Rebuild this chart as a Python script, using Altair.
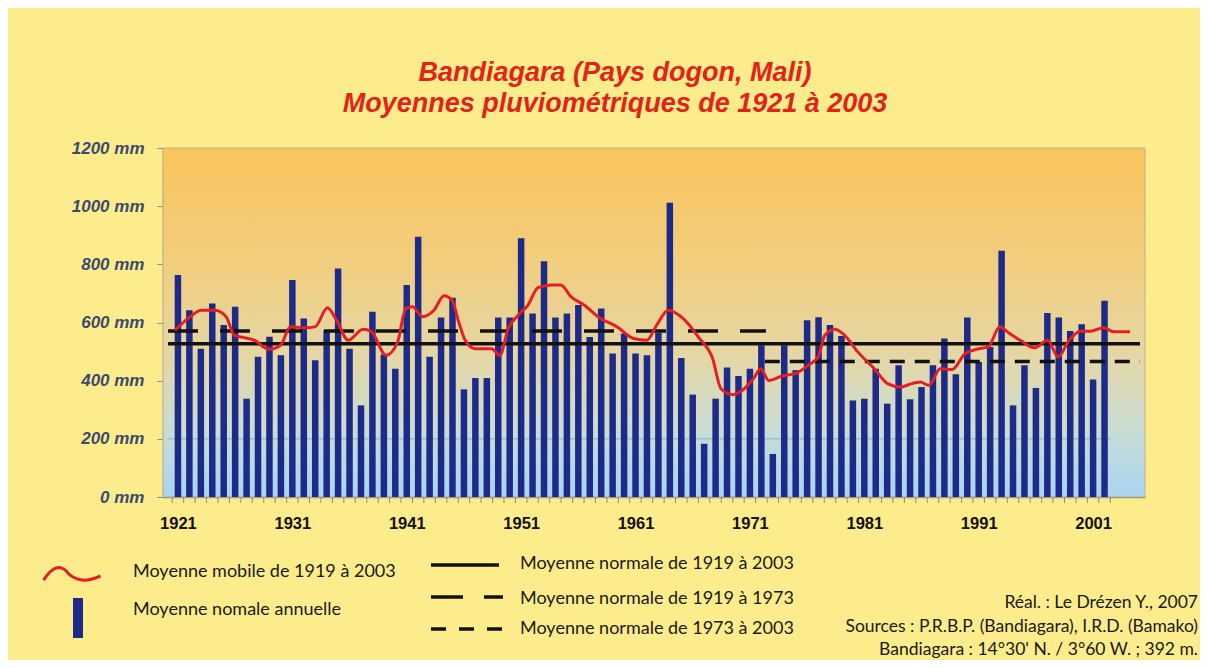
import altair as alt
import pandas as pd

# ---------------- data ----------------
years = list(range(1921, 2003))
rain = [763, 642, 510, 665, 591, 654, 338, 482, 551, 487,
        746, 614, 470, 573, 786, 510, 315, 637, 490, 441,
        729, 895, 482, 617, 685, 370, 409, 409, 617, 617,
        890, 631, 811, 617, 631, 660, 550, 648, 493, 562,
        493, 487, 565, 1012, 478, 352, 183, 338, 445, 416,
        441, 522, 148, 522, 436, 608, 618, 591, 554, 332,
        338, 441, 321, 453, 336, 378, 453, 545, 422, 617,
        464, 516, 847, 315, 453, 375, 633, 617, 571, 594,
        404, 675]

ma_year = [1920.74, 1921.89, 1923.05, 1924.20, 1925.21, 1925.93, 1926.79, 1927.66,
           1928.96, 1929.97, 1930.83, 1931.98, 1932.99, 1934.06, 1934.87, 1935.88,
           1937.18, 1937.89, 1939.19, 1940.20, 1940.92, 1941.50, 1942.37, 1943.38,
           1944.25, 1944.96, 1945.54, 1946.11, 1946.98, 1948.42, 1949.14, 1949.87,
           1950.74, 1951.60, 1952.47, 1953.62, 1954.48, 1955.35, 1956.50, 1957.94,
           1959.39, 1960.82, 1961.98, 1962.85, 1963.85, 1965.15, 1966.59, 1967.74,
           1968.47, 1969.48, 1970.34, 1971.35, 1971.93, 1972.65, 1973.80, 1974.96,
           1976.11, 1976.97, 1977.55, 1978.42, 1979.28, 1980.43, 1981.88, 1983.03,
           1984.18, 1984.91, 1985.91, 1986.64, 1987.64, 1988.66, 1989.81, 1990.82,
           1991.83, 1992.84, 1993.70, 1994.71, 1995.87, 1997.03, 1997.94, 1998.90,
           1999.91, 2000.77, 2001.92, 2002.79, 2004.23]
ma_val = [573, 614, 642, 642, 620, 556, 548, 539,
          508, 522, 585, 582, 585, 651, 608, 539,
          577, 570, 487, 533, 648, 654, 620, 642,
          692, 677, 602, 539, 510, 510, 487, 579,
          625, 660, 720, 729, 729, 689, 660, 614,
          585, 545, 539, 591, 642, 614, 545, 476,
          372, 352, 367, 409, 441, 401, 416, 424,
          453, 482, 556, 577, 556, 499, 441, 390,
          378, 387, 395, 384, 441, 438, 493, 508,
          516, 585, 562, 537, 513, 539, 482, 539,
          570, 570, 582, 568, 568]

X0, X1 = 1920.13, 2005.1          # x extent of the plot, in years
norm_all = 527        # 1919-2003
norm_old = 571        # 1919-1973
norm_new = 466        # 1973-2003
norm_old_end = 1972.4
norm_new_start = 1972.3
grid_level = 200
grid_end = 2002.5

x_labels = [1921, 1931, 1941, 1951, 1961, 1971, 1981, 1991, 2001]
y_ticks = [0, 200, 400, 600, 800, 1000, 1200]
tick_years = [y + 0.5 for y in range(1920, 2003)]

title_lines = ["Bandiagara (Pays dogon, Mali)", "Moyennes pluviométriques de 1921 à 2003"]
legend_left = ["Moyenne mobile de 1919 à 2003", "Moyenne nomale annuelle"]
legend_mid = ["Moyenne normale de 1919 à 2003", "Moyenne normale de 1919 à 1973",
              "Moyenne normale de 1973 à 2003"]
credits = ["Réal. : Le Drézen Y., 2007",
           "Sources : P.R.B.P. (Bandiagara), I.R.D. (Bamako)",
           "Bandiagara : 14°30' N. / 3°60 W. ; 392 m."]

# ---------------- layout / style ----------------
W, H = 982, 349
BAR = "#1E2A8A"
RED = "#E31E24"
YEL = "#FCEC8C"

xscale = alt.Scale(domain=[X0, X1], nice=False, zero=False)
yscale = alt.Scale(domain=[0, 1200], nice=False, zero=True)

xaxis = alt.Axis(values=x_labels, format="d", labelFont="Liberation Sans", labelFontSize=16.5,
                 labelFontWeight="bold", labelColor="#111111", ticks=False, tickSize=0,
                 labelPadding=18, domainColor="#8A8A8A", domainWidth=1.5, grid=False, title=None)
yaxis = alt.Axis(values=y_ticks, labelExpr="datum.value + ' mm'", labelFont="Liberation Sans",
                 labelFontSize=17, labelFontWeight="bold", labelFontStyle="italic",
                 labelColor="#3C4A70", tickSize=6, tickColor="#8A8A8A", domainColor="#8A8A8A",
                 domainWidth=1.5, grid=False, title=None, labelPadding=13)


def X(f):
    return alt.X(f, scale=xscale, axis=xaxis)


def Y(f):
    return alt.Y(f, scale=yscale, axis=yaxis)


dummy = pd.DataFrame({"k": [0]})

bg = alt.Chart(dummy).mark_rect(
    fill=alt.LinearGradient(gradient="linear", x1=0, y1=0, x2=0, y2=1, stops=[
        alt.GradientStop(color="#F9C45C", offset=0),
        alt.GradientStop(color="#F1CE80", offset=0.35),
        alt.GradientStop(color="#E4D7A6", offset=0.6),
        alt.GradientStop(color="#CADDD2", offset=0.8),
        alt.GradientStop(color="#A9D4F2", offset=1)]),
    stroke="#BDB18E", strokeWidth=1
).encode(x=alt.value(0), x2=alt.value(W), y=alt.value(0), y2=alt.value(H))

grid = alt.Chart(pd.DataFrame({"g": [grid_level], "s": [X0], "e": [grid_end]})).mark_rule(
    color="#8FA2B6", strokeWidth=0.8
).encode(x=X("s:Q"), x2=alt.X2("e:Q"), y=Y("g:Q"))

bars = alt.Chart(pd.DataFrame({"year": years, "mm": rain})).mark_bar(
    size=6.5, color=BAR
).encode(x=X("year:Q"), y=Y("mm:Q"))

solid = alt.Chart(pd.DataFrame({"v": [norm_all], "s": [X0], "e": [X1]})).mark_rule(
    color="#111111", strokeWidth=3.5
).encode(x=X("s:Q"), x2=alt.X2("e:Q"), y=Y("v:Q"))

longd = alt.Chart(pd.DataFrame({"v": [norm_old], "s": [X0], "e": [norm_old_end]})).mark_rule(
    color="#111111", strokeWidth=3.5, strokeDash=[30, 22]
).encode(x=X("s:Q"), x2=alt.X2("e:Q"), y=Y("v:Q"))

shortd = alt.Chart(pd.DataFrame({"v": [norm_new], "s": [norm_new_start], "e": [X1]})).mark_rule(
    color="#111111", strokeWidth=3.5, strokeDash=[15, 10]
).encode(x=X("s:Q"), x2=alt.X2("e:Q"), y=Y("v:Q"))

ma = alt.Chart(pd.DataFrame({"yr": ma_year, "v": ma_val})).mark_line(
    color=RED, strokeWidth=3, interpolate="monotone"
).encode(x=X("yr:Q"), y=Y("v:Q"), order="yr:Q")

ticks = alt.Chart(pd.DataFrame({"t": tick_years})).mark_rule(
    color="#8A8A8A", strokeWidth=1
).encode(x=X("t:Q"), y=alt.value(H), y2=alt.value(H + 6))


def txt(s, x, y, **kw):
    return alt.Chart(dummy).mark_text(text=s, **kw).encode(x=alt.value(x), y=alt.value(y))


title_kw = dict(font="Liberation Sans", fontSize=27, fontWeight="bold", fontStyle="italic",
                color="#E2231A", align="center", baseline="alphabetic")
leg_kw = dict(font="Lato", fontSize=18, color="#1A1A1A", align="left", baseline="middle")
cred_kw = dict(font="Lato", fontSize=17.5, color="#1A1A1A", align="right", baseline="middle")

texts = [
    txt(title_lines[0], 452, -67, **title_kw),
    txt(title_lines[1], 452, -36, **title_kw),
    txt(legend_left[0], -30, 424, **leg_kw),
    txt(legend_left[1], -30, 462, **leg_kw),
    txt(legend_mid[0], 357, 416, **leg_kw),
    txt(legend_mid[1], 357, 451, **leg_kw),
    txt(legend_mid[2], 357, 481, **leg_kw),
    txt(credits[0], 1035, 455, **cred_kw),
    txt(credits[1], 1035, 479, **cred_kw),
    txt(credits[2], 1035, 502, **cred_kw),
]

leg_wave = alt.Chart(dummy).mark_point(
    shape="M-1,0.25 C-0.65,-0.3 -0.35,-0.3 -0.1,0.05 C0.2,0.3 0.6,0.3 1,0.1",
    size=3249, filled=False, strokeWidth=3, color=RED, opacity=1
).encode(x=alt.value(-91), y=alt.value(425))
leg_bar = alt.Chart(dummy).mark_rect(color=BAR).encode(
    x=alt.value(-90), x2=alt.value(-80), y=alt.value(450), y2=alt.value(490))
leg_solid = alt.Chart(dummy).mark_rule(color="#111111", strokeWidth=3.5).encode(
    x=alt.value(268), x2=alt.value(336), y=alt.value(417))
leg_long = alt.Chart(dummy).mark_rule(color="#111111", strokeWidth=3.5, strokeDash=[32, 21]).encode(
    x=alt.value(268), x2=alt.value(340), y=alt.value(449))
leg_short = alt.Chart(dummy).mark_rule(color="#111111", strokeWidth=3.5, strokeDash=[15, 13]).encode(
    x=alt.value(268), x2=alt.value(340), y=alt.value(481))

chart = alt.layer(
    bg, grid, bars, solid, longd, shortd, ma, ticks,
    leg_wave, leg_bar, leg_solid, leg_long, leg_short, *texts
).properties(
    width=W, height=H,
    autosize=alt.AutoSizeParams(type="none"),
    padding={"left": 155, "top": 140, "right": 55, "bottom": 163},
    background=YEL,
).configure_view(stroke=None)

chart.save("out.html", embed_options={"renderer": "svg", "actions": False})
